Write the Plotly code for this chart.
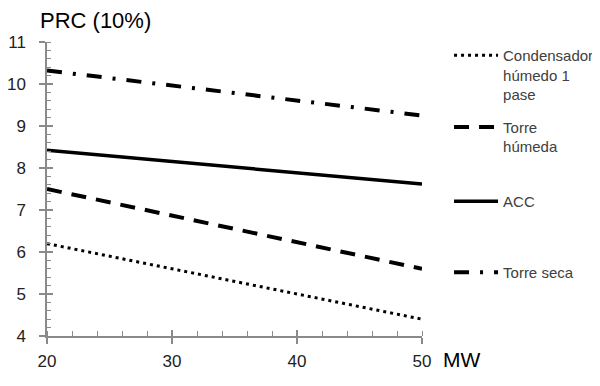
import plotly.graph_objects as go

mw = [20, 50]
condensador = [6.2, 4.4]
torre_humeda = [7.5, 5.6]
acc = [8.42, 7.62]
torre_seca = [10.32, 9.25]

names = ["Condensador<br>húmedo 1<br>pase", "Torre<br>húmeda", "ACC", "Torre seca"]
series = [condensador, torre_humeda, acc, torre_seca]
dashes = ["3px,4px", "15px,10px", "solid", "15px,11px,3px,11px"]
widths = [3, 4, 3.5, 4]
legend_ids = ["legend", "legend2", "legend3", "legend4"]
legend_y = [0.918, 0.728, 0.532, 0.344]

AX = "#8a8a8a"
fig = go.Figure()
for nm, s, d, w, lg in zip(names, series, dashes, widths, legend_ids):
    fig.add_trace(go.Scatter(x=mw, y=s, mode="lines", name=nm, legend=lg,
                             line=dict(color="black", width=w, dash=d)))
# helper overlay axes for crossing major ticks
fig.add_trace(go.Scatter(x=[None], y=[None], xaxis="x2", yaxis="y2",
                         showlegend=False, hoverinfo="skip"))

legend_font = dict(family="Liberation Sans", size=15, color="#404040")
tick_font = dict(family="Liberation Sans", size=17, color="#222")
lay = dict(
    width=592, height=378,
    margin=dict(l=39, r=178, t=34, b=50, autoexpand=False),
    paper_bgcolor="white", plot_bgcolor="white",
    xaxis=dict(range=[20, 50], dtick=10, tick0=20, showgrid=False, zeroline=False,
               automargin=False,
               showline=True, linecolor=AX, linewidth=1.5,
               ticks="outside", ticklen=6, tickcolor=AX, tickwidth=1.5,
               minor=dict(dtick=2, ticks="inside", ticklen=5, tickcolor=AX, tickwidth=1),
               tickfont=tick_font, ticklabelstandoff=3),
    yaxis=dict(range=[4, 11], dtick=1, showgrid=False, zeroline=False,
               automargin=False,
               showline=True, linecolor=AX, linewidth=1.5,
               ticks="outside", ticklen=6, tickcolor=AX, tickwidth=1.5,
               minor=dict(dtick=0.2, ticks="inside", ticklen=4, tickcolor=AX, tickwidth=1),
               tickfont=tick_font, ticklabelstandoff=10),
    xaxis2=dict(range=[20, 50], dtick=10, tick0=20, overlaying="x", side="bottom",
                automargin=False,
                showgrid=False, zeroline=False, showline=False, showticklabels=False,
                ticks="inside", ticklen=6, tickcolor=AX, tickwidth=1.5),
    yaxis2=dict(range=[4, 11], dtick=1, overlaying="y", side="left",
                automargin=False,
                showgrid=False, zeroline=False, showline=False, showticklabels=False,
                ticks="inside", ticklen=6, tickcolor=AX, tickwidth=1.5),
    annotations=[
        dict(text="PRC (10%)", xref="paper", yref="paper", x=-0.024, y=1.0,
             xanchor="left", yanchor="middle", yshift=22, showarrow=False,
             font=dict(family="Liberation Sans", size=22, color="black")),
        dict(text="MW", xref="paper", yref="paper", x=1.0, y=0,
             xanchor="left", yanchor="middle", xshift=19, yshift=-23, showarrow=False,
             font=dict(family="Liberation Sans", size=21, color="black")),
    ],
)
for lg, ly in zip(legend_ids, legend_y):
    lay[lg] = dict(x=0.745, y=ly, xref="container", yref="container",
                   xanchor="left", yanchor="top", valign="top",
                   font=legend_font, bgcolor="rgba(0,0,0,0)", itemwidth=44,
                   borderwidth=0)
fig.update_layout(**lay)
fig.write_html("out.html")
